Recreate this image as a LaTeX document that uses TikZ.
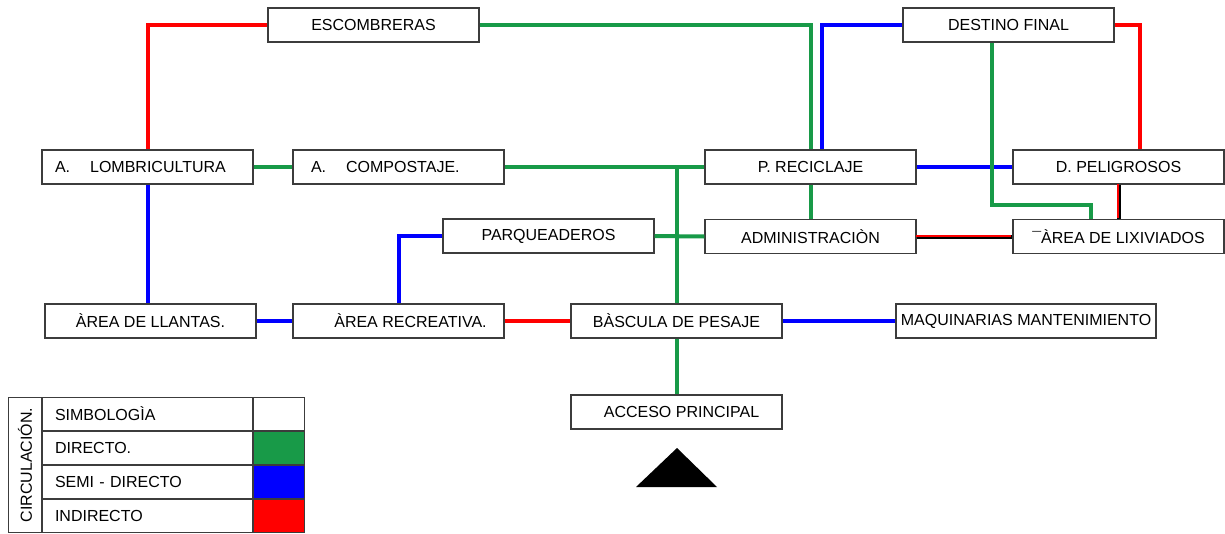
\documentclass[tikz,border=0pt]{standalone}
\usepackage{fontspec}
\setmainfont{Liberation Sans}
\usepackage{xcolor}
\usetikzlibrary{calc, positioning}

\definecolor{verde}{RGB}{24,154,72}
\definecolor{azul}{RGB}{0,0,255}
\definecolor{rojo}{RGB}{255,0,0}
\definecolor{borde}{RGB}{60,60,60}

\begin{document}
\begin{tikzpicture}[x=1pt, y=-1pt,
    area/.style={draw=borde, line width=1.3pt, minimum width=211pt, minimum height=34pt,
        inner sep=0pt, font=\fontsize{16}{18}\selectfont},
    directo/.style={verde, line width=4pt},
    semi/.style={azul, line width=4pt},
    indirecto/.style={rojo, line width=4pt},
    mixtofondo/.style={black, line width=4pt},
    mixtorojo/.style={rojo, line width=2pt, transform canvas={shift={(-1pt,1pt)}}},
    fila/.style={draw=borde, line width=1.3pt, minimum width=209.7pt, minimum height=32.7pt,
        inner sep=0pt, text width=185pt, align=left, font=\fontsize{16}{18}\selectfont},
    celda/.style={draw=borde, line width=1.3pt, minimum width=50.7pt, minimum height=32.7pt, inner sep=0pt}]
    \useasboundingbox (0,0) rectangle (1225,533);

    % areas
    \node[area] (escombreras) at (373.5,25) {ESCOMBRERAS\hspace{26pt}};
    \node[area] (destino) at (1008.5,25) {DESTINO FINAL\hspace{28pt}};
    \node[area, text width=185pt, align=left] (lombri) at (147.5,167) {A.\hspace{20pt}LOMBRICULTURA};
    \node[area, text width=175pt, align=left] (compostaje) at (398.5,167) {A.\hspace{20pt}COMPOSTAJE.};
    \node[area] (reciclaje) at (810.5,167) {P. RECICLAJE\hspace{44pt}};
    \node[area] (peligrosos) at (1118.5,167) {D. PELIGROSOS\hspace{26pt}};
    \node[area] (parqueaderos) at (548.5,236) {PARQUEADEROS\hspace{12pt}};
    \node[area] (admin) at (810.5,236.5) {ADMINISTRACIÒN};
    \node[area] (lixiviados) at (1118.5,236.5) {¯ÀREA DE LIXIVIADOS\hspace{20pt}};
    \node[area] (llantas) at (150.5,321) {ÀREA DE LLANTAS.};
    \node[area] (recreativa) at (398.5,321) {\hspace{24pt}ÀREA RECREATIVA.};
    \node[area] (bascula) at (676.5,321) {BÀSCULA DE PESAJE\hspace{10pt}};
    \node[area, minimum width=260pt] (maquinarias) at (1026,321) {MAQUINARIAS MANTENIMIENTO};
    \node[area] (acceso) at (676.5,412) {\hspace{10pt}ACCESO PRINCIPAL};
    \fill (677,448) -- (717,487) -- (636,487) -- cycle;

    % circulacion
    \draw[indirecto] (escombreras.west) -| (lombri.north);
    \draw[directo] (escombreras.east) -| (reciclaje.north);
    \draw[semi] (destino.west) -| ([xshift=11pt]reciclaje.north);
    \draw[indirecto] (destino.east) -| ([xshift=21pt]peligrosos.north);
    \draw[directo] (lombri.east) -- (compostaje.west);
    \draw[directo] (compostaje.east) -- (reciclaje.west);
    \draw[directo] (compostaje.east -| bascula.north) -- (bascula.north);
    \draw[directo] (bascula.south) -- (acceso.north);
    \draw[directo] (parqueaderos.east) -- (admin.west);
    \draw[directo] (reciclaje.south) -- (admin.north);
    \draw[semi] (reciclaje.east) -- (peligrosos.west);
    \coordinate (codo) at (992,205);
    \draw[directo] (destino.south -| codo) -- (codo) -| ([xshift=-28pt]lixiviados.north);
    \draw[semi] (lombri.south) -- (lombri.south |- llantas.north);
    \draw[semi] (llantas.east) -- (recreativa.west);
    \draw[semi] (recreativa.north) |- (parqueaderos.west);
    \draw[indirecto] (recreativa.east) -- (bascula.west);
    \draw[semi] (bascula.east) -- (maquinarias.west);
    \draw[mixtofondo] (admin.east) -- (lixiviados.west);
    \draw[mixtorojo] (admin.east) -- (lixiviados.west);
    \draw[mixtofondo] (peligrosos.south) -- (lixiviados.north);
    \draw[mixtorojo] (peligrosos.south) -- (lixiviados.north);

    % simbologia
    \node[fila] (simb) at (147.5,414) {SIMBOLOGÌA};
    \node[fila, below=0pt of simb] (dir) {DIRECTO.};
    \node[fila, below=0pt of dir] (semidir) {SEMI - DIRECTO};
    \node[fila, below=0pt of semidir] (indir) {INDIRECTO};
    \node[celda, right=0pt of simb] (csimb) {};
    \node[celda, fill=verde, right=0pt of dir] (cdir) {};
    \node[celda, fill=azul, right=0pt of semidir] (csemi) {};
    \node[celda, fill=rojo, right=0pt of indir] (cindir) {};
    \node[draw=borde, line width=1.3pt, rotate=90, minimum width=134.7pt, minimum height=32.7pt,
        inner sep=0pt, font=\fontsize{16}{18}\selectfont] (circ) at (25,465) {CIRCULACIÓN.};
\end{tikzpicture}
\end{document}
